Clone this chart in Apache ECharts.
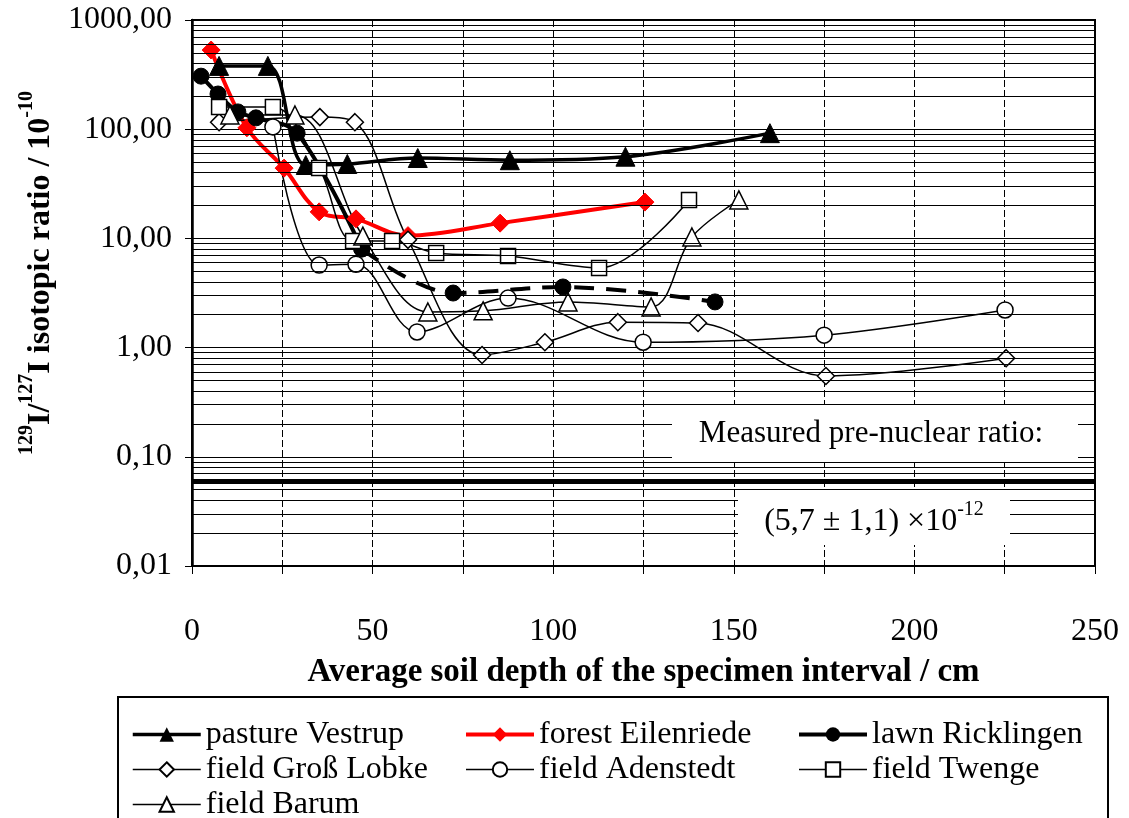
<!DOCTYPE html>
<html>
<head>
<meta charset="utf-8">
<script src="https://cdn.jsdelivr.net/npm/echarts@6/dist/echarts.min.js"></script>
<style>
  html, body { margin: 0; padding: 0; background: #fff; }
  #chart { width: 1129px; height: 818px; }
</style>
</head>
<body>
<div id="chart"></div>
<script>
// depth (cm) and 129I/127I ratio (x 10^-10)
const pastureX = [7.5, 21, 31.5, 43, 62.5, 88, 120, 160];
const pastureY = [380, 380, 47, 48, 54.5, 52, 56, 92];

const forestX = [5.3, 15.2, 25.5, 35.2, 45.4, 59.8, 85.3, 125.4];
const forestY = [531, 103, 44, 17.5, 15.1, 10.6, 13.8, 21.5];

const lawnX = [2.5, 7.2, 12.7, 17.7, 29.1, 47, 72.3, 102.7, 144.8];
const lawnY = [306, 210, 144, 127, 92, 8.0, 3.16, 3.59, 2.62];
// from this point on the lawn curve is dashed
const lawnDashFrom = 5;

const lobkeX = [7.5, 35.4, 45.1, 59.8, 80.3, 97.7, 117.9, 140.1, 175.5, 225.4];
const lobkeY = [116, 129, 116, 9.7, 0.855, 1.12, 1.71, 1.68, 0.55, 0.80];

const adenstedtX = [22.4, 35.2, 45.4, 62.3, 87.5, 124.9, 175, 225.1];
const adenstedtY = [105, 5.7, 5.8, 1.39, 2.84, 1.12, 1.30, 2.21];

const twengeX = [7.5, 22.4, 35.2, 44.6, 55.4, 67.6, 87.5, 112.7, 137.6];
const twengeY = [160, 160, 44.2, 9.46, 9.46, 7.35, 6.9, 5.36, 22.5];

const barumX = [10.5, 28.5, 47.3, 65.3, 80.6, 104.1, 127.1, 138.4, 151.4];
const barumY = [135, 135, 10.5, 2.12, 2.17, 2.62, 2.36, 10.3, 22.5];

// pre-nuclear ratio 5.7e-12 in units of 1e-10
const preNuclear = 0.057;

// minor gridlines 2..9 in every decade
const minorGrid = [];
[0.01, 0.1, 1, 10, 100].forEach(d => {
    for (let k = 2; k <= 9; k++) minorGrid.push(d * k);
});

const serif = "'Liberation Serif', 'Times New Roman', serif";

function pairs(xs, ys) {
    return xs.map((x, i) => [x, ys[i]]);
}

const chart = echarts.init(document.getElementById('chart'));

function whiteSeries(name, symbol, size, xs, ys) {
    return {
        name: name,
        type: 'line',
        smooth: 0.35,
        symbol: symbol,
        symbolSize: size,
        data: pairs(xs, ys),
        lineStyle: { color: '#000', width: 1.5 },
        itemStyle: { color: '#fff', borderColor: '#000', borderWidth: 1.5 },
        z: 3
    };
}

const lawnData = pairs(lawnX, lawnY);

const option = {
    animation: false,
    backgroundColor: '#fff',
    grid: {
        left: 192, right: 34, top: 20, bottom: 252,
        show: true, borderColor: '#000', borderWidth: 2, backgroundColor: 'transparent'
    },
    xAxis: {
        type: 'value',
        min: 0, max: 250, interval: 25,
        name: 'Average soil depth of the specimen interval / cm',
        nameLocation: 'middle',
        nameGap: 90,
        nameTextStyle: { fontFamily: serif, fontSize: 33, fontWeight: 'bold', color: '#000' },
        axisLine: { lineStyle: { color: '#000', width: 2 } },
        axisTick: { show: true, inside: false, length: 8, lineStyle: { color: '#000', width: 1 } },
        axisLabel: {
            margin: 50,
            fontFamily: serif, fontSize: 32, color: '#000',
            formatter: v => (v % 50 === 0 ? String(v) : '')
        },
        splitLine: { show: true, lineStyle: { color: '#000', width: 1, type: [7, 3] } }
    },
    yAxis: {
        type: 'log',
        logBase: 10,
        min: 0.01, max: 1000,
        name: '{s|129}{b|I/}{s|127}{b|I isotopic ratio / 10}{s|-10}',
        nameLocation: 'middle',
        nameGap: 134,
        nameTextStyle: {
            color: '#000',
            padding: [0, 0, 0, 40],
            rich: {
                b: { fontFamily: serif, fontSize: 32, fontWeight: 'bold', color: '#000', lineHeight: 40, verticalAlign: 'bottom' },
                s: { fontFamily: serif, fontSize: 20, fontWeight: 'bold', color: '#000', lineHeight: 40, verticalAlign: 'top' }
            }
        },
        axisLine: { show: true, lineStyle: { color: '#000', width: 2.5 } },
        axisTick: { show: true, inside: false, length: 7, lineStyle: { color: '#000', width: 1 } },
        axisLabel: {
            margin: 20,
            fontFamily: serif, fontSize: 32, color: '#000',
            formatter: v => Number(v).toFixed(2).replace('.', ',')
        },
        splitLine: { show: true, lineStyle: { color: '#000', width: 1 } },
        minorTick: { show: false },
        minorSplitLine: { show: false }
    },
    legend: [
        { left: 126, top: 713, orient: 'vertical', data: ['pasture Vestrup', 'field Groß Lobke', 'field Barum'] },
        { left: 459, top: 713, orient: 'vertical', data: ['forest Eilenriede', 'field Adenstedt'] },
        { left: 792, top: 713, orient: 'vertical', data: ['lawn Ricklingen', 'field Twenge'] }
    ].map(l => Object.assign(l, {
        height: 140,
        itemWidth: 68, itemHeight: 18, itemGap: 2,
        lineStyle: { width: 'inherit' },
        textStyle: { fontFamily: serif, fontSize: 32, color: '#000', lineHeight: 33, padding: [0, 0, 0, 0] },
        selectedMode: false
    })),
    graphic: [
        {
            type: 'rect', z: 100,
            shape: { x: 672, y: 405, width: 406, height: 57 },
            style: { fill: '#fff', stroke: null }
        },
        {
            type: 'text', z: 101,
            x: 871, y: 434,
            style: {
                text: 'Measured pre-nuclear ratio:',
                font: '31px ' + serif, fill: '#000', align: 'center', verticalAlign: 'middle'
            }
        },
        {
            type: 'rect', z: 100,
            shape: { x: 738, y: 490, width: 272, height: 55 },
            style: { fill: '#fff', stroke: null }
        },
        {
            type: 'text', z: 101,
            x: 874, y: 519,
            style: {
                text: '{n|(5,7 ± 1,1) ×10}{s|-12}',
                align: 'center', verticalAlign: 'middle',
                rich: {
                    n: { fontFamily: serif, fontSize: 32, fill: '#000', lineHeight: 38, verticalAlign: 'bottom' },
                    s: { fontFamily: serif, fontSize: 20, fill: '#000', lineHeight: 38, verticalAlign: 'top' }
                }
            }
        },
        {
            type: 'rect', z: 100,
            shape: { x: 118, y: 697, width: 990, height: 130 },
            style: { fill: null, stroke: '#000', lineWidth: 2 }
        }
    ],
    series: [
        {
            name: 'grid',
            type: 'line',
            data: [],
            z: 1,
            silent: true,
            markLine: {
                silent: true,
                symbol: ['none', 'none'],
                label: { show: false },
                animation: false,
                data: minorGrid.map(v => ({ yAxis: v, lineStyle: { color: '#000', width: 1, type: 'solid' } }))
                    .concat([{ yAxis: preNuclear, lineStyle: { color: '#000', width: 5, type: 'solid' } }])
            }
        },
        {
            name: 'pasture Vestrup',
            type: 'line',
            smooth: 0.35,
            symbol: 'triangle',
            symbolSize: 19,
            data: pairs(pastureX, pastureY),
            lineStyle: { color: '#000', width: 3.5 },
            itemStyle: { color: '#000', borderColor: '#000' },
            z: 3
        },
        {
            name: 'forest Eilenriede',
            type: 'line',
            smooth: 0.35,
            symbol: 'diamond',
            symbolSize: 18,
            data: pairs(forestX, forestY),
            lineStyle: { color: '#ff0000', width: 4 },
            itemStyle: { color: '#ff0000', borderColor: '#ff0000' },
            z: 3
        },
        {
            name: 'lawn Ricklingen',
            type: 'line',
            smooth: 0.35,
            symbol: 'circle',
            symbolSize: 16,
            data: lawnData.slice(0, lawnDashFrom + 1),
            lineStyle: { color: '#000', width: 4 },
            itemStyle: { color: '#000', borderColor: '#000' },
            z: 3
        },
        {
            name: 'lawn Ricklingen (dashed part)',
            type: 'line',
            smooth: 0.35,
            symbol: 'circle',
            symbolSize: 16,
            data: lawnData.slice(lawnDashFrom),
            lineStyle: { color: '#000', width: 4, type: [20, 12] },
            itemStyle: { color: '#000', borderColor: '#000' },
            z: 3
        },
        whiteSeries('field Groß Lobke', 'diamond', 17, lobkeX, lobkeY),
        whiteSeries('field Adenstedt', 'circle', 16, adenstedtX, adenstedtY),
        whiteSeries('field Twenge', 'rect', 15, twengeX, twengeY),
        whiteSeries('field Barum', 'triangle', 18, barumX, barumY)
    ]
};

chart.setOption(option);
</script>
</body>
</html>
